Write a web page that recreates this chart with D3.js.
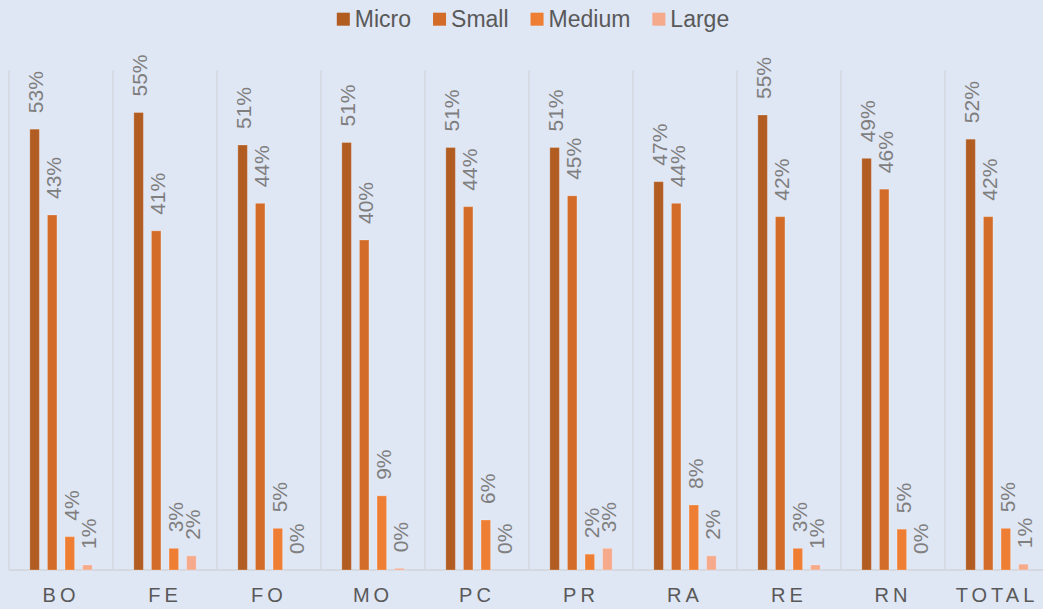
<!DOCTYPE html>
<html lang="en">
<head>
<meta charset="utf-8">
<script src="https://d3js.org/d3.v7.min.js"></script>
<style>
  body { margin: 0; background: #dfe6f4; }
  svg { display: block; font-family: "Liberation Sans", Arial, sans-serif; }
</style>
</head>
<body>
<div id="chart"></div>
<script>
// categories and series
const categories = ["BO", "FE", "FO", "MO", "PC", "PR", "RA", "RE", "RN", "TOTAL"];
const seriesNames = ["Micro", "Small", "Medium", "Large"];
const colours = ["#b15c21", "#d46c29", "#ee7e33", "#f4aa8b"];

// shares (fraction of 1)
const micro  = [0.529, 0.549, 0.510, 0.513, 0.507, 0.507, 0.466, 0.546, 0.494, 0.517];
const small  = [0.426, 0.407, 0.440, 0.396, 0.436, 0.449, 0.440, 0.424, 0.457, 0.424];
const medium = [0.040, 0.026, 0.050, 0.089, 0.060, 0.019, 0.078, 0.026, 0.049, 0.050];
const large  = [0.006, 0.017, 0.000, 0.002, 0.000, 0.026, 0.017, 0.006, 0.000, 0.007];
const yTicks = [0, 0.6];

const seriesValues = [micro, small, medium, large];

const W = 1043, H = 609;
const plot = {left: 9, right: 1049, top: 70, bottom: 570};

const svg = d3.select("#chart").append("svg")
  .attr("width", W).attr("height", H);

svg.append("rect").attr("width", W).attr("height", H).attr("fill", "#dfe6f4");

const x0 = d3.scaleBand()
  .domain(categories)
  .range([plot.left, plot.right])
  .padding(0);

const x1 = d3.scaleBand()
  .domain(seriesNames)
  .range([16.8, x0.bandwidth() - 16.8])
  .padding(0);

const barW = x1.bandwidth() * 0.54;

const y = d3.scaleLinear()
  .domain(d3.extent(yTicks))
  .range([plot.bottom, plot.top]);

// vertical separators between categories
svg.append("g").selectAll("line")
  .data(categories)
  .join("line")
  .attr("x1", d => x0(d)).attr("x2", d => x0(d))
  .attr("y1", plot.top).attr("y2", plot.bottom)
  .attr("stroke", "#d5d9df").attr("stroke-width", 1.5);

// baseline
svg.append("line")
  .attr("x1", plot.left).attr("x2", W)
  .attr("y1", y(0)).attr("y2", y(0))
  .attr("stroke", "#d5d9df").attr("stroke-width", 2);

const flat = [];
categories.forEach((c, i) => {
  seriesNames.forEach((s, j) => {
    flat.push({cat: c, series: s, idx: j, value: seriesValues[j][i]});
  });
});

const cx = d => x0(d.cat) + x1(d.series) + x1.bandwidth() / 2;

svg.append("g").selectAll("rect")
  .data(flat)
  .join("rect")
  .attr("x", d => cx(d) - barW / 2)
  .attr("y", d => y(d.value))
  .attr("width", barW)
  .attr("height", d => y(0) - y(d.value))
  .attr("fill", d => colours[d.idx])
  .attr("stroke", "#ffffff").attr("stroke-opacity", 0.25).attr("stroke-width", 1);

// data labels, rotated
svg.append("g").selectAll("text")
  .data(flat)
  .join("text")
  .attr("transform", d => "translate(" + cx(d) + "," + (y(d.value) - 16) + ") rotate(-90)")
  .attr("dy", "0.42em")
  .attr("text-anchor", "start")
  .attr("font-size", 21)
  .attr("fill", "#7f7f7f")
  .text(d => d3.format(".0%")(d.value));

// x axis labels
const xAxis = svg.append("g")
  .attr("transform", "translate(0," + y(0) + ")")
  .call(d3.axisBottom(x0).tickSize(0).tickPadding(18));
xAxis.select(".domain").remove();
xAxis.selectAll("text")
  .attr("font-size", 20)
  .attr("font-family", "Liberation Sans, Arial, sans-serif")
  .attr("fill", "#595959")
  .attr("letter-spacing", "4px");

// legend
const legend = svg.append("g");
let lx = 0;
seriesNames.forEach((s, j) => {
  const g = legend.append("g").attr("transform", "translate(" + lx + ",0)");
  g.append("rect").attr("x", 0).attr("y", 12.7).attr("width", 13).attr("height", 13)
    .attr("fill", colours[j]);
  const t = g.append("text").attr("x", 18).attr("y", 26.5)
    .attr("font-size", 23).attr("fill", "#595959").text(s);
  lx += 18 + t.node().getComputedTextLength() + 22;
});
const legendW = lx - 22;
legend.attr("transform", "translate(" + (533 - legendW / 2) + ",0)");
</script>
</body>
</html>
